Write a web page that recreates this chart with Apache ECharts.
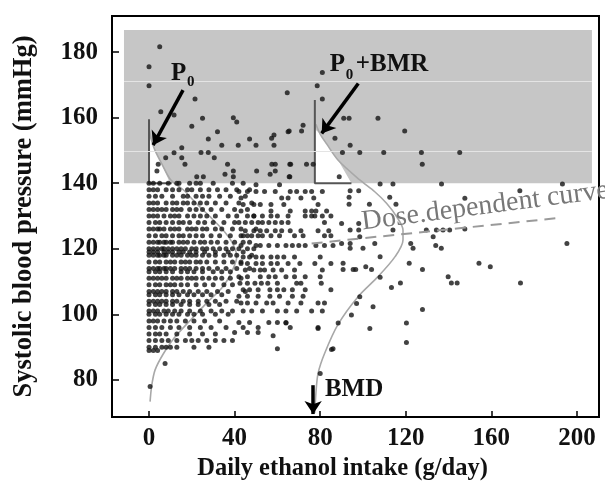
<!DOCTYPE html>
<html>
<head>
<meta charset="utf-8">
<script src="https://cdn.jsdelivr.net/npm/echarts@6/dist/echarts.min.js"></script>
<style>
  html, body { margin: 0; background: #fff; }
  #chart { width: 605px; height: 489px; }
</style>
</head>
<body>
<div id="chart"></div>
<script>
const SERIF = '"Liberation Serif", "Times New Roman", serif';

// axis ticks
const sbpTicks = [80, 100, 120, 140, 160, 180];
const intakeTicks = [0, 40, 80, 120, 160, 200];

// dense block (low intake): one row per SBP value, intakes in that row
const denseSbp = [140, 138, 136, 134, 132, 130, 128, 126, 124, 122, 120, 119, 118, 116, 114,
  113, 111, 109, 107, 106, 104, 103, 101, 100, 98, 96, 94, 92, 90, 89];
const denseIntake = [
  [0, 2, 5, 9, 13, 14, 19, 22, 24, 30, 39, 44],
  [0, 2, 4, 8, 11, 14, 18, 20, 24, 28, 32, 36, 41, 47],
  [0, 3, 6, 11, 16, 18, 22, 25, 28, 33, 38, 45],
  [0, 2, 4, 8, 11, 13, 16, 18, 21, 24, 27, 31, 36, 42, 48],
  [0, 2, 4, 6, 8, 11, 13, 15, 19, 22, 25, 29, 34, 40, 46],
  [0, 2, 4, 7, 10, 12, 14, 18, 21, 24, 27, 31, 37, 41, 49],
  [0, 3, 5, 8, 11, 14, 16, 19, 23, 26, 30, 35, 40, 45],
  [0, 2, 4, 5, 7, 10, 12, 14, 18, 20, 22, 25, 27, 31, 34, 39, 43, 50],
  [0, 3, 6, 8, 11, 14, 16, 19, 22, 25, 29, 33, 38, 43, 46],
  [0, 2, 4, 5, 7, 8, 10, 11, 14, 16, 18, 21, 24, 26, 29, 32, 36, 40, 44, 47],
  [0, 2, 4, 6, 7, 9, 11, 13, 15, 17, 20, 22, 25, 27, 30, 33, 36, 39, 42, 46, 49],
  [0, 2, 4, 7, 9, 11, 14, 16, 19, 22, 26, 31, 37, 44],
  [0, 2, 4, 5, 7, 8, 11, 13, 15, 18, 20, 22, 25, 28, 31, 35, 38, 41, 48],
  [0, 3, 5, 8, 10, 12, 15, 17, 19, 22, 24, 27, 31, 35, 39, 43],
  [0, 2, 4, 5, 7, 8, 10, 12, 15, 17, 19, 22, 25, 28, 32, 36, 41, 47],
  [0, 3, 5, 8, 11, 15, 18, 21, 25, 30, 34, 38],
  [0, 2, 4, 6, 8, 11, 13, 15, 18, 20, 22, 25, 28, 31, 34, 38, 43],
  [0, 3, 5, 8, 10, 12, 15, 18, 22, 26, 30, 35, 39],
  [0, 2, 4, 6, 8, 11, 13, 16, 19, 23, 27, 32, 37, 45],
  [0, 3, 5, 8, 11, 14, 18, 21, 25, 29, 34],
  [0, 2, 4, 6, 8, 11, 13, 16, 19, 23, 27, 31, 36, 41],
  [0, 3, 5, 8, 11, 15, 19, 23, 28, 33],
  [0, 2, 4, 7, 9, 12, 15, 19, 24, 29, 34, 39],
  [0, 3, 5, 8, 11, 14, 18, 21, 25, 31, 37],
  [0, 2, 4, 7, 10, 13, 17, 21, 26, 33],
  [0, 3, 6, 10, 14, 19, 24, 29, 36],
  [0, 3, 5, 8, 13, 19, 25, 31],
  [0, 3, 6, 9, 13, 17, 20, 23, 27, 31, 35, 39],
  [0, 3, 6, 8, 10, 13, 21, 28],
  [0, 2, 4],
];

// middle block (40-87 g/day) and the few low readings
const midSbp = [139.5, 137.5, 135.5, 133.5, 131.5, 130, 128, 125.5, 124, 121, 117.5, 115.5,
  113.5, 111.5, 109.5, 107.5, 105.5, 103.5, 101, 97.5, 96, 94.5, 93.5, 89.5, 85, 82, 78];
const midIntake = [
  [50, 61],
  [42, 46, 50, 54, 59, 66, 69, 73, 76, 81],
  [43, 62, 65, 71, 77],
  [44, 49, 52, 57, 63, 79],
  [43, 57, 66, 73, 76, 78, 83],
  [46, 49, 53, 57, 60, 65, 73, 76, 77.5, 81, 85],
  [42, 48, 51, 53, 56, 59, 62, 65, 82],
  [45, 49, 52, 55, 59, 62, 66, 71, 79, 84],
  [44, 48, 51, 53, 57, 61, 68, 72, 82, 85],
  [43, 50, 52, 56, 60, 64, 67, 70, 73, 78, 82, 86],
  [44, 47, 50, 53, 57, 60, 63, 68, 80],
  [43, 46, 50, 53, 57, 60, 65, 70.5, 77.5, 85],
  [45, 49, 52, 54, 58, 62, 68, 81],
  [42, 46, 52, 56, 59, 64, 68, 73, 80],
  [42.5, 46, 49.5, 52.5, 55.5, 60, 69, 71, 80.5],
  [44, 47, 51, 56.5, 60, 63, 67, 73, 85],
  [42, 46, 51, 56.5, 61, 67, 72],
  [43, 46, 50, 55, 58, 65, 71, 79, 82],
  [44, 48, 53, 60, 64, 69, 76, 81],
  [42, 47, 56, 60, 64],
  [44, 51, 66, 79],
  [40, 46, 51],
  [58],
  [60, 86],
  [7.5],
  [80],
  [0.5],
];

// sparse heavy drinkers, [intake, sbp]
const farPoints = [
  [94, 137.7], [98, 137.7], [112.5, 135.7], [115.4, 133.6], [147.6, 135.4], [173.3, 137.7],
  [93.5, 135.7], [93.5, 133.6], [103, 133.6], [90, 127.7], [94, 125.7], [98, 125.7], [98, 127.7],
  [114, 125.7], [129.6, 125.7], [134.3, 125.7], [137.4, 125.7], [140.5, 125.7], [132.8, 123.7],
  [147.6, 126], [98.5, 123.7], [90, 121.6], [94, 121.6], [94, 120.2], [100, 120.2], [105.5, 121.6],
  [122.3, 121.6], [123.4, 120.2], [134, 121], [136.6, 120.2], [195.3, 121.6], [108, 117.6],
  [121.6, 115.6], [127.8, 113.7], [154.2, 115.6], [159.5, 114.5], [90.7, 115.6], [90.7, 113.7],
  [95.4, 113.7], [96.6, 113.7], [101.3, 114.5], [104, 113.7], [108, 111.3], [117.5, 109.6],
  [113.3, 108.2], [139.8, 111.5], [141.3, 109.6], [144, 109.6], [173.6, 109.6], [98.5, 105.4],
  [97, 103.3], [104.7, 102.3], [94.6, 99.8], [88.4, 97.4], [103.2, 95.7], [120.3, 97.4],
  [120.3, 91.4], [127.8, 101.5], [85.3, 89.3], [79, 95.7], [64, 97.4],
];

// hypertensive zone (> 140 mmHg), [intake, sbp]
const highBpPoints = [
  [5, 181.6], [0, 175.5], [0, 169.7], [21.5, 165.7], [5.5, 161.8], [11.7, 160.8], [25, 159.8],
  [20, 157.4], [39.4, 160], [41, 158.7], [32, 155.7], [27.7, 153.5], [34, 151.6], [41.7, 151.6],
  [47, 153.5], [50, 151.6], [57.3, 153.7], [58.4, 154.7], [58.4, 151.6], [65, 155.7], [64.6, 167.6],
  [15.3, 150.8], [7.8, 147.8], [11.7, 149.3], [15.3, 147.8], [16.8, 145.8], [24.3, 149.4],
  [27.7, 149.4], [30.5, 147.8], [36.7, 145.8], [39.4, 143.7], [35.5, 142.7], [39.4, 142],
  [22.3, 142], [25.4, 142], [50.3, 143.7], [57.4, 145.8], [59, 145.8], [56.6, 142.7], [59, 143.7],
  [65.8, 145.8], [65.8, 142], [4.3, 145.8], [3.7, 143.7],
  [81, 173.8], [78.6, 169.7], [81, 165.7], [91, 159.8], [93.5, 159.8], [107, 159.8], [72, 157.7],
  [71.3, 155.9], [65.5, 155.9], [119.5, 155.9], [86.9, 153.7], [94, 151.6], [90.4, 149.4],
  [98.5, 149.4], [109.7, 149.4], [127.3, 149.4], [127.7, 145.8], [145.2, 149.4], [66.2, 145.8],
  [73.6, 145.8], [76.7, 145.8], [65.5, 142], [88.9, 142], [108, 139.8], [114, 139.8],
  [136.7, 139.8], [193.2, 139.8],
];

// SBP distributions drawn sideways, [intake, sbp]
const p0Curve = [[0.5, 73.4], [1.2, 78], [2.8, 83], [6.7, 88], [12, 93], [19, 98], [27, 103.5],
  [34.6, 108.5], [39, 113.5], [41, 117.6], [39, 121.7], [34.6, 125.7], [28.5, 129.8], [22, 133.9],
  [16, 138], [10.2, 141], [5.9, 146], [2.8, 150], [1.2, 153], [0.3, 156]];
const bmrCurve = [[77.5, 70], [78, 76], [79, 82], [82, 88], [88.4, 97], [97.7, 105.4], [107, 111.5],
  [115, 117.6], [118.7, 122.7], [118.7, 125.7], [115.7, 129.8], [111, 133.9], [105.5, 137.4],
  [98.5, 141], [88.4, 147], [83, 152], [80, 155], [78, 158]];
const p0Tail = [[0, 140], [0, 154], [1.2, 153], [2.8, 150], [5.9, 146], [9.8, 140]];
const bmrTail = [[77.5, 140], [77.5, 156.5], [80, 155], [83, 152], [88.4, 147], [94.6, 140]];
const p0Frame = [[0, 159.5], [0, 140], [10.6, 140]];
const bmrFrame = [[77.5, 165.4], [77.5, 140], [94.6, 140]];
const doseLine = [[76, 121.6], [190, 129.3]];

// annotations
const hyperZone = [[-11.7, 140], [207, 186.7]];
const zoneRules = [171, 149.7];
const p0Arrow = [[15.9, 168.4], [1.9, 151.6]];
const bmrArrow = [[97.8, 170.4], [80.7, 155.2]];
const bmdArrow = [[76.7, 78.4], [76.7, 69.6]];
const p0At = [10.3, 173.6];
const bmrAt = [84.5, 176.3];
const bmdAt = [82.2, 77.2];
const doseAt = [99.5, 128.1];

const rowsToPoints = (ys, xss) => ys.flatMap((y, i) => xss[i].map(x => [x, y]));
const points = [
  ...rowsToPoints(denseSbp, denseIntake),
  ...rowsToPoints(midSbp, midIntake),
  ...farPoints,
  ...highBpPoints,
];

const chart = echarts.init(document.getElementById('chart'));

const axisText = { fontFamily: SERIF, fontWeight: 'bold', fontSize: 25, color: '#111' };
const titleText = { fontFamily: SERIF, fontWeight: 'bold', color: '#111' };

const arrow = (seg) => [{ coord: seg[0] }, { coord: seg[1] }];

const option = {
  animation: false,
  grid: { left: 112, right: 6, top: 16, bottom: 72, show: true, borderColor: '#000', borderWidth: 2 },
  xAxis: {
    type: 'value',
    min: -17.3,
    max: 210.3,
    name: 'Daily ethanol intake (g/day)',
    nameLocation: 'middle',
    nameGap: 37,
    nameTextStyle: { ...titleText, fontSize: 24.5, padding: [0, 26, 0, 0] },
    axisLine: { onZero: false, lineStyle: { color: '#000', width: 2 } },
    axisTick: { inside: true, length: 6, customValues: intakeTicks, lineStyle: { color: '#000', width: 1.5 } },
    axisLabel: { ...axisText, margin: 9, customValues: intakeTicks },
    splitLine: { show: false },
  },
  yAxis: {
    type: 'value',
    min: 68.7,
    max: 191,
    name: 'Systolic blood pressure (mmHg)',
    nameLocation: 'middle',
    nameGap: 74,
    nameTextStyle: { ...titleText, fontSize: 26.5 },
    axisLine: { onZero: false, lineStyle: { color: '#000', width: 2 } },
    axisTick: { inside: true, length: 7, customValues: sbpTicks, lineStyle: { color: '#000', width: 1.5 } },
    axisLabel: { ...axisText, margin: 14, customValues: sbpTicks },
    splitLine: { show: false },
  },
  series: [
    {
      // shaded hypertension zone
      type: 'line',
      data: [],
      z: 1,
      silent: true,
      markArea: {
        silent: true,
        itemStyle: { color: '#c6c6c6' },
        data: [[{ coord: hyperZone[0] }, { coord: hyperZone[1] }]],
      },
      markLine: {
        silent: true,
        symbol: 'none',
        label: { show: false },
        lineStyle: { color: '#e4e4e4', width: 1, type: 'solid' },
        data: zoneRules.map(v => [{ coord: [hyperZone[0][0], v] }, { coord: [hyperZone[1][0], v] }]),
      },
    },
    {
      type: 'custom',
      z: 2,
      silent: true,
      data: [p0Tail[0], bmrTail[0]],
      renderItem: (params, api) => {
        const tail = [p0Tail, bmrTail][params.dataIndex];
        return {
          type: 'polygon',
          shape: { points: tail.map(p => api.coord(p)) },
          style: { fill: '#fff' },
        };
      },
    },
    {
      type: 'line', data: p0Curve, z: 3, smooth: 0.3, symbol: 'none', silent: true,
      lineStyle: { color: '#a8a8a8', width: 1.6 },
    },
    {
      type: 'line', data: bmrCurve, z: 3, smooth: 0.3, symbol: 'none', silent: true,
      lineStyle: { color: '#a8a8a8', width: 1.6 },
    },
    {
      type: 'line', data: p0Frame, z: 4, symbol: 'none', silent: true,
      lineStyle: { color: '#555', width: 2 },
    },
    {
      type: 'line', data: bmrFrame, z: 4, symbol: 'none', silent: true,
      lineStyle: { color: '#555', width: 2 },
    },
    {
      type: 'scatter', data: points, z: 5, symbolSize: 5, silent: true,
      itemStyle: { color: '#141414' },
    },
    {
      type: 'line', data: doseLine, z: 6, symbol: 'none', silent: true,
      lineStyle: { color: '#9a9a9a', width: 2, type: [11, 7] },
      markLine: {
        silent: true,
        symbol: ['none', 'arrow'],
        symbolSize: 13,
        label: { show: false },
        lineStyle: { color: '#000', width: 3.5, type: 'solid' },
        data: [arrow(p0Arrow), arrow(bmrArrow), arrow(bmdArrow)],
      },
    },
  ],
};

chart.setOption(option);

// text annotations anchored to data positions
const at = (p) => chart.convertToPixel({ gridIndex: 0 }, p);
const note = (p, dx, dy, text, size, extra) => ({
  type: 'text',
  x: p[0] + dx,
  y: p[1] + dy,
  z: 100,
  style: {
    text,
    fontFamily: SERIF,
    fontWeight: 'bold',
    fontSize: size,
    fill: '#111',
    align: 'left',
    verticalAlign: 'middle',
    ...extra,
  },
});

const p0Px = at(p0At);
const bmrPx = at(bmrAt);
const bmdPx = at(bmdAt);
const dosePx = at(doseAt);

chart.setOption({
  graphic: [
    note(p0Px, 0, 0, 'P', 25),
    note(p0Px, 16, 9, '0', 15),
    note(bmrPx, 0, 0, 'P', 25),
    note(bmrPx, 16, 11, '0', 15),
    note(bmrPx, 26, 0, '+BMR', 25),
    note(bmdPx, 0, 0, 'BMD', 25),
    {
      type: 'text',
      x: dosePx[0],
      y: dosePx[1],
      rotation: 0.129,
      z: 100,
      style: {
        text: 'Dose.dependent curve',
        fontFamily: SERIF,
        fontSize: 28,
        fill: '#777',
        align: 'left',
        verticalAlign: 'middle',
      },
    },
  ],
});
</script>
</body>
</html>
